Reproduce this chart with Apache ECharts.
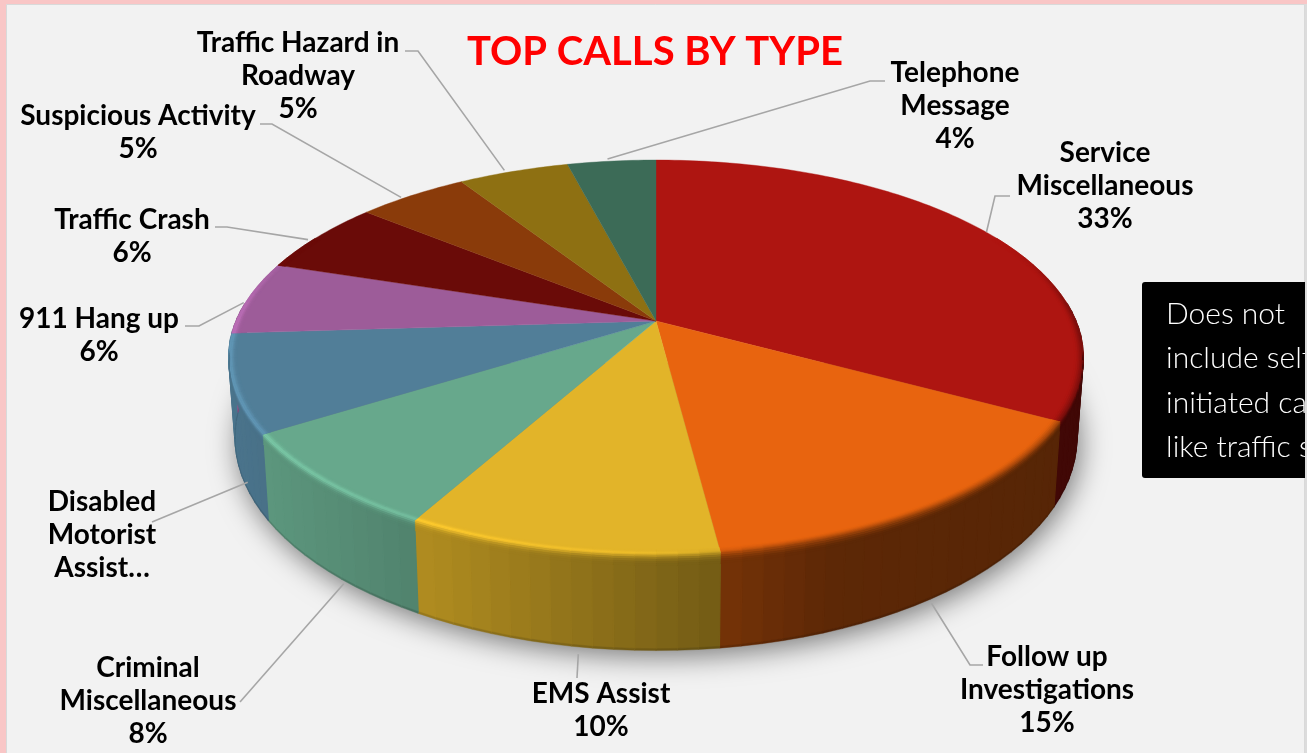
<!DOCTYPE html>
<html>
<head>
<meta charset="utf-8">
<title>Top Calls by Type</title>
<style>html,body{margin:0;padding:0;background:#f9c6c6;overflow:hidden}#chart{width:1307px;height:753px}</style>
<script src="https://cdn.jsdelivr.net/npm/echarts@6/dist/echarts.min.js"></script>
</head>
<body>
<div id="chart"></div>
<script>
// Share of calls per type, clockwise from twelve o'clock.
const categories = ['Service\nMiscellaneous', 'Follow up\nInvestigations', 'EMS Assist', 'Criminal\nMiscellaneous',
  'Disabled\nMotorist\nAssist…', '911 Hang up', 'Traffic Crash', 'Suspicious Activity', 'Traffic Hazard in\nRoadway', 'Telephone\nMessage'];
const shares = [33, 15, 10, 8, 8, 6, 6, 5, 5, 4];
const sliceColors = ['#ae1511', '#e8640f', '#e2b429', '#67a88c', '#517e98', '#9d5c99', '#6a0b08', '#8a3b0a', '#8e7012', '#3c6b57'];

// Where each label sits: centre x, centre y of its first line, leader elbow points, and a nudge for the leader's start.
const labelPlaces = [
  { x: 1105, y: 153, elbow: [[995, 196], [1010, 196]], nudge: [0, 0] },
  { x: 1047, y: 657, elbow: [[970, 665], [983, 665]], nudge: [1, 4] },
  { x: 601, y: 694, elbow: [[577, 678]], nudge: [17, 9] },
  { x: 148, y: 668, elbow: [[240, 702]], nudge: [15, 12] },
  { x: 102, y: 502, elbow: [[152, 522]], nudge: [9, 16] },
  { x: 99, y: 319, elbow: [[199, 326], [185, 326]], nudge: [-5, 5] },
  { x: 132, y: 220, elbow: [[227, 227], [215, 227]], nudge: [-10, 3] },
  { x: 138, y: 116, elbow: [[272, 124], [260, 124]], nudge: [-11, 2] },
  { x: 298, y: 43, elbow: [[418, 51], [405, 51]], nudge: [-9, -1] },
  { x: 955, y: 73, elbow: [[870, 81], [885, 81]], nudge: [-4, -2] }
];

const noteLines = ['Does not', 'include self', 'initiated calls', 'like traffic stops'];

const labelFont = 'Lato, "Open Sans", sans-serif';

// Perspective projection of the pie's top disc onto the page.
const disc = { cx: 656, cy: 321, a: 420, b: 190.7, k: 0.1847, depth: 78, narrow: 0.985 };

function topPoint(deg, r) {
  const rad = deg * Math.PI / 180;
  const X = r * Math.sin(rad), Y = r * Math.cos(rad), w = 1 + disc.k * Y;
  return { x: disc.cx + disc.a * X / w, y: disc.cy - disc.b * Y / w, w: w };
}
// Point on the wall under a rim angle; f runs from 0 at the rim to 1 at the base.
function wallPoint(deg, f) {
  const p = topPoint(deg, 1);
  const sx = 1 + (disc.narrow - 1) * f;
  return [disc.cx + (p.x - disc.cx) * sx, p.y + f * disc.depth / p.w];
}

const sum = shares.reduce((s, v) => s + v, 0);
function sliceSpan(i) {
  let before = 0;
  for (let j = 0; j < i; j++) before += shares[j];
  return [before / sum * 360, (before + shares[i]) / sum * 360];
}

function rgb(hex) { return [1, 3, 5].map(n => parseInt(hex.substr(n, 2), 16)); }
function css(c) { return 'rgb(' + c.map(v => Math.max(0, Math.min(255, Math.round(v)))).join(',') + ')'; }
function ramp(x, x0, x1) { const t = Math.max(0, Math.min(1, (x - x0) / (x1 - x0))); return t * t * (3 - 2 * t); }

// Wall shading falls off from left to right.
const wallShade = [[228, 0.92], [430, 0.77], [738, 0.49], [830, 0.40], [1085, 0.37]];
function shadeAt(x) {
  for (let i = 1; i < wallShade.length; i++) {
    if (x <= wallShade[i][0]) {
      const a = wallShade[i - 1], b = wallShade[i];
      return a[1] + (b[1] - a[1]) * Math.max(0, (x - a[0]) / (b[0] - a[0]));
    }
  }
  return wallShade[wallShade.length - 1][1];
}

// Colour across the bevel: t is -1 on the disc, 0 at the rim, 1 on the wall.
function bevelColor(base, deg, x, t) {
  const fade = t < 0 ? ramp(deg, 62, 92) * (1 - ramp(deg, 268, 298)) : 1;
  const s = ramp(t, -1, 0.9) * fade;
  const shade = shadeAt(x);
  const glow = (1 - ramp(x, 640, 800)) * Math.exp(-Math.pow((t + 0.15) / 0.38, 2)) * 0.24 * fade;
  return css(base.map(v => (v * (1 - s) + v * shade * s) * (1 + glow)));
}

function arcSteps(from, to, step) {
  const out = [];
  const n = Math.max(1, Math.ceil((to - from) / step));
  for (let i = 0; i <= n; i++) out.push(from + (to - from) * i / n);
  return out;
}

// Wall of one slice, drawn beneath every disc face.
function renderWall(params, api) {
  const i = params.dataIndex;
  const span = sliceSpan(i);
  const from = Math.max(span[0], 85), to = Math.min(span[1], 275);
  const children = [];
  if (to > from) {
    const base = rgb(sliceColors[i]);
    const steps = arcSteps(from, to, 2.5);
    for (let s = 0; s < steps.length - 1; s++) {
      const d0 = steps[s], d1 = steps[s + 1];
      const midX = (wallPoint(d0, 0)[0] + wallPoint(d1, 0)[0]) / 2;
      const fill = css(base.map(v => v * shadeAt(midX)));
      const edge = css(base.map(v => v * shadeAt(midX) * 0.86));
      children.push({
        type: 'polygon', silent: true,
        shape: { points: [wallPoint(d0, 0), wallPoint(d1, 0), wallPoint(d1, 0.98), wallPoint(d0, 0.98)] },
        style: { fill: fill, stroke: fill, lineWidth: 1.2 }
      });
      children.push({
        type: 'polygon', silent: true,
        shape: { points: [wallPoint(d0, 0.98), wallPoint(d1, 0.98), wallPoint(d1, 1), wallPoint(d0, 1)] },
        style: { fill: edge, stroke: edge, lineWidth: 0.4 }
      });
    }
  }
  return { type: 'group', children: children };
}

function bevelPoint(deg, t) {
  if (t <= 0) {
    const p = topPoint(deg, 1 + t * 0.02);
    return [p.x, p.y];
  }
  return wallPoint(deg, t * 0.11);
}

// Top face of one slice with its rounded rim.
function renderFace(params, api) {
  const i = params.dataIndex;
  const span = sliceSpan(i);
  const base = rgb(sliceColors[i]);
  const centre = topPoint(0, 0);
  const points = [[centre.x, centre.y]];
  arcSteps(span[0], span[1], 1).forEach(d => { const p = topPoint(d, 1); points.push([p.x, p.y]); });
  const children = [{
    type: 'polygon', silent: true,
    shape: { points: points },
    style: { fill: sliceColors[i], stroke: sliceColors[i], lineWidth: 0.4 }
  }];
  const levels = [-1, -0.8, -0.6, -0.4, -0.2, 0, 0.2, 0.4, 0.6, 0.8, 1];
  const from = Math.max(span[0], 62), to = Math.min(span[1], 298);
  if (to > from) {
    const steps = arcSteps(from, to, 2.5);
    for (let s = 0; s < steps.length - 1; s++) {
      const d0 = steps[s], d1 = steps[s + 1], dm = (d0 + d1) / 2;
      for (let l = 0; l < levels.length - 1; l++) {
        const t0 = levels[l], t1 = levels[l + 1];
        if (t0 >= 0 && (dm < 100 || dm > 262)) continue;
        const a = bevelPoint(d0, t0), b = bevelPoint(d1, t0), c = bevelPoint(d1, t1), e = bevelPoint(d0, t1);
        const fill = bevelColor(base, dm, (a[0] + b[0]) / 2, (t0 + t1) / 2);
        children.push({
          type: 'polygon', silent: true,
          shape: { points: [a, b, c, e] },
          style: { fill: fill, stroke: fill, lineWidth: 0.5 }
        });
      }
    }
  }
  return { type: 'group', children: children };
}

// Leader line and text for one slice.
function renderLabel(params, api) {
  const i = params.dataIndex;
  const span = sliceSpan(i);
  const mid = (span[0] + span[1]) / 2;
  const place = labelPlaces[i];
  const onWall = mid > 100 && mid < 262;
  let start;
  if (onWall) {
    start = wallPoint(mid, 1);
  } else {
    const p = topPoint(mid, 1);
    start = [p.x, p.y];
  }
  start = [start[0] + place.nudge[0], start[1] + place.nudge[1]];
  const name = categories[i];
  const cut = name.endsWith('…');
  const text = cut ? name : name + '\n' + api.value(0) + '%';
  return {
    type: 'group',
    children: [{
      type: 'polyline', silent: true,
      shape: { points: [start].concat(place.elbow) },
      style: { fill: 'none', stroke: '#a6a6a6', lineWidth: 1.6 }
    }, {
      type: 'text', silent: true,
      style: {
        text: text, x: place.x, y: place.y - 16.5,
        align: 'center', verticalAlign: 'top',
        font: 'bold 28px ' + labelFont, lineHeight: 33, fill: '#000000'
      }
    }]
  };
}

// Base of the pie, which casts the soft shadow on the panel.
function baseOutline() {
  const pts = [];
  arcSteps(80, 280, 3).forEach(d => pts.push(wallPoint(d, 0.98)));
  return pts;
}

const seriesData = shares.map(v => [v]);
const chart = echarts.init(document.getElementById('chart'), null, { renderer: 'canvas' });
chart.setOption({
  animation: false,
  backgroundColor: '#f9c6c6',
  title: {
    text: 'TOP CALLS BY TYPE',
    left: 462, top: 27,
    textStyle: { color: '#ff0000', fontFamily: labelFont, fontWeight: 'bold', fontSize: 40 }
  },
  graphic: [
    { type: 'rect', z: -2, silent: true, shape: { x: 6.5, y: 4.5, width: 1298, height: 760 }, style: { fill: '#f2f2f2', stroke: '#d9d9d9', lineWidth: 1 } },
    { type: 'polygon', z: -1, silent: true, shape: { points: baseOutline() },
      style: { fill: '#777777', shadowBlur: 28, shadowColor: 'rgba(0,0,0,0.5)', shadowOffsetX: 3, shadowOffsetY: 8 } },
    { type: 'rect', z: 5, silent: true, shape: { x: 1142, y: 282, width: 200, height: 196, r: 3 }, style: { fill: '#000000' } },
    { type: 'text', z: 6, silent: true, style: { text: noteLines.join('\n'), x: 1166, y: 292, font: '300 30px ' + labelFont, lineHeight: 44.5, fill: '#ffffff' } },
    { type: 'rect', z: 7, silent: true, shape: { x: 1305, y: 4, width: 2, height: 749 }, style: { fill: '#dcdcdc' } }
  ],
  series: [
    { type: 'custom', coordinateSystem: 'none', z: 2, silent: true, data: seriesData, renderItem: renderWall },
    { type: 'custom', coordinateSystem: 'none', z: 3, silent: true, data: seriesData, renderItem: renderFace },
    { type: 'custom', coordinateSystem: 'none', z: 4, silent: true, data: seriesData, renderItem: renderLabel }
  ]
});
</script>
</body>
</html>
